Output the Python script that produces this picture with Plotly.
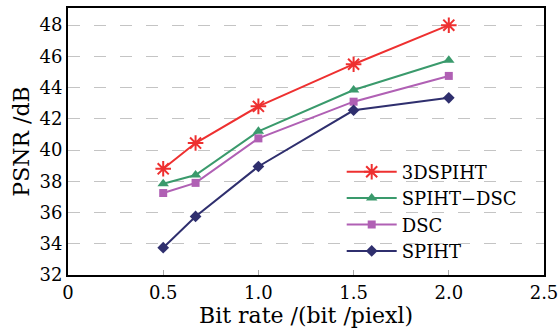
import plotly.graph_objects as go

bit_rate = [0.5, 0.67, 1.0, 1.5, 2.0]
psnr_3dspiht = [38.8, 40.45, 42.8, 45.5, 48.0]
psnr_spiht_dsc = [37.85, 38.4, 41.2, 43.85, 45.75]
psnr_dsc = [37.25, 37.9, 40.75, 43.1, 44.75]
psnr_spiht = [33.75, 35.75, 38.95, 42.55, 43.35]

series_names = ["3DSPIHT", "SPIHT\u2212DSC", "DSC", "SPIHT"]
series_vals = [psnr_3dspiht, psnr_spiht_dsc, psnr_dsc, psnr_spiht]
colors = ["#ee3030", "#3a9a6c", "#b060b4", "#2f2f6e"]
symbols = ["asterisk-open", "triangle-up", "square", "diamond"]
sizes = [13, 10, 8, 9]

x_ticks = [0, 0.5, 1.0, 1.5, 2.0, 2.5]
x_tick_labels = ["0", "0.5", "1.0", "1.5", "2.0", "2.5"]
y_ticks = [32, 34, 36, 38, 40, 42, 44, 46, 48]

fig = go.Figure()
for i, (name, vals) in enumerate(zip(series_names, series_vals)):
    fig.add_trace(go.Scatter(
        x=bit_rate, y=vals, name=name + " ", mode="lines+markers",
        line=dict(color=colors[i], width=2),
        marker=dict(symbol=symbols[i], size=sizes[i], color=colors[i],
                    line=dict(color=colors[i], width=2 if i == 0 else 0)),
    ))

font = "DejaVu Serif, Liberation Serif, serif"
fig.update_layout(
    width=558, height=328,
    margin=dict(l=68, r=14, t=8, b=53),
    plot_bgcolor="white", paper_bgcolor="white",
    font=dict(family=font, size=18, color="black"),
    showlegend=True,
    legend=dict(x=0.575, y=0.455, xanchor="left", yanchor="top",
                bgcolor="rgba(255,255,255,0)", font=dict(size=18, family=font),
                itemwidth=50, tracegroupgap=0),
    xaxis=dict(range=[0, 2.5], tickvals=x_ticks, ticktext=x_tick_labels,
               showgrid=False, showline=True, linecolor="black", linewidth=2,
               mirror=True, ticks="inside", ticklen=5, tickcolor="#aaaaaa",
               title=dict(text="Bit rate /(bit /piexl)", standoff=2),
               zeroline=False, automargin=False, ticklabeloverflow="allow"),
    yaxis=dict(range=[32, 49.1], tickvals=y_ticks,
               showgrid=True, gridcolor="#c4c4c4", griddash="12px,14px", gridwidth=1,
               showline=True, linecolor="black", linewidth=2, mirror=True,
               ticks="", title=dict(text="PSNR /dB", standoff=4), zeroline=False,
               automargin=False, ticklabeloverflow="allow"),
)
fig.write_html("out.html", config={"displayModeBar": False},
               post_script="document.body.style.margin='0';")
